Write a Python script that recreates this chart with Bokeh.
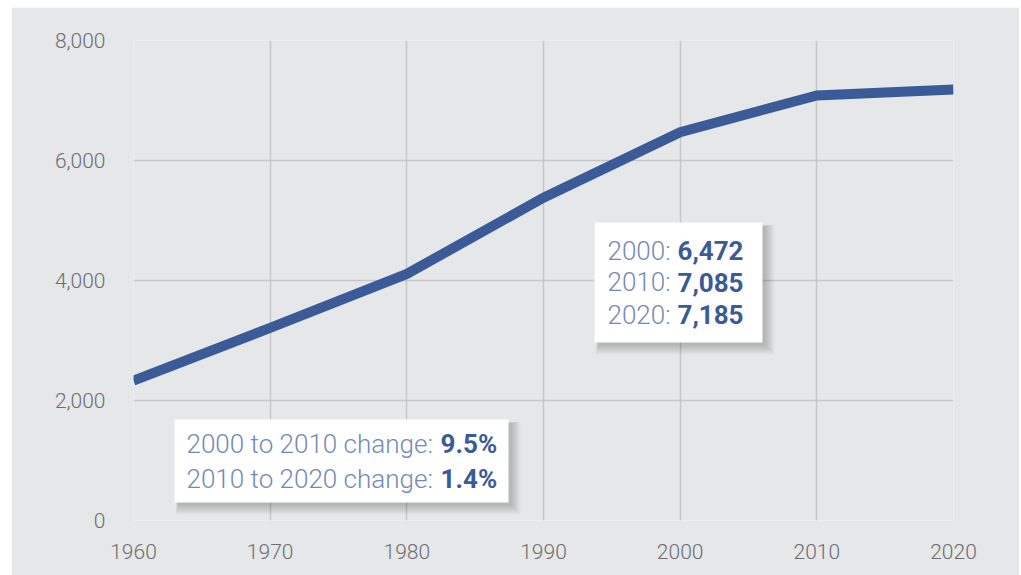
from bokeh.plotting import figure
from bokeh.models import Range1d, FixedTicker, NumeralTickFormatter, BoxAnnotation, Label
from bokeh.embed import file_html
from bokeh.resources import INLINE

# ---- data ----
years = [1960, 1970, 1980, 1990, 2000, 2010, 2020]
population = [2330, 3210, 4110, 5380, 6472, 7085, 7185]
y_ticks = [0, 2000, 4000, 6000, 8000]
callout_years = [2000, 2010, 2020]
change_periods = [(2000, 2010), (2010, 2020)]

BG = "#e6e7e8"
GRID = "#c6c7c9"
AXIS_TXT = "#6d6e71"
LINE = "#3a5b97"
LIGHT_TXT = "#7389b8"
BOLD_TXT = "#3a5b97"
FONT_LIGHT = "Roboto Light"
FONT = "Roboto"
BOX_FS = "26px"

p = figure(width=1008, height=568, output_backend="svg", toolbar_location=None,
           x_range=Range1d(1960, 2020), y_range=Range1d(0, 8000),
           min_border_left=122, min_border_right=66, min_border_top=33, min_border_bottom=55,
           background_fill_color=BG, border_fill_color=BG)
p.margin = (7, 2, 0, 11)
p.outline_line_color = None

p.xaxis.ticker = FixedTicker(ticks=years)
p.yaxis.ticker = FixedTicker(ticks=y_ticks)
p.yaxis.formatter = NumeralTickFormatter(format="0,0")
for ax in (p.xaxis[0], p.yaxis[0]):
    ax.axis_line_color = None
    ax.major_tick_line_color = None
    ax.minor_tick_line_color = None
    ax.major_label_text_font = FONT_LIGHT
    ax.major_label_text_font_size = "21px"
    ax.major_label_text_color = AXIS_TXT
p.yaxis.major_label_standoff = 22
p.xaxis.major_label_standoff = 17

p.xgrid.grid_line_color = GRID
p.ygrid.grid_line_color = GRID
p.xgrid.grid_line_width = 1.5
p.ygrid.grid_line_width = 1.5

p.line(years, population, line_width=10, line_color=LINE, line_join="miter", line_cap="butt")

# pixel -> data helpers (frame: 820 px for 60 years, 480 px for 8000)
XPX = 60 / 820.0
YPX = 8000 / 480.0


def box_with_shadow(left, right, top, bottom):
    for i in range(9, 0, -1):
        p.add_layout(BoxAnnotation(left=left + (4 - i * 0.3) * XPX,
                                   right=right + (2 + i * 1.1) * XPX,
                                   top=top - (4 - i * 0.2) * YPX,
                                   bottom=bottom - (2 + i * 1.1) * YPX,
                                   fill_color="black", fill_alpha=0.022, line_color=None))
    p.add_layout(BoxAnnotation(left=left, right=right, top=top, bottom=bottom,
                               fill_color="white", fill_alpha=1.0, line_color=None))


# callout 1: values
box_with_shadow(1993.73, 2006.02, 4967, 2967)
ylines1 = [4500, 3967, 3433]
for yr, yv in zip(callout_years, ylines1):
    val = population[years.index(yr)]
    p.add_layout(Label(x=1994.68, y=yv, text=f"{yr}:", text_font=FONT_LIGHT,
                       text_font_size=BOX_FS, text_color=LIGHT_TXT, text_baseline="middle"))
    p.add_layout(Label(x=1994.68, y=yv, x_offset=70, text=f"{val:,}", text_font=FONT,
                       text_font_style="bold", text_font_size=BOX_FS, text_color=BOLD_TXT,
                       text_baseline="middle"))

# callout 2: changes
box_with_shadow(1963.0, 1987.44, 1683, 300)
ylines2 = [1283, 700]
for (a, b), yv in zip(change_periods, ylines2):
    va = population[years.index(a)]
    vb = population[years.index(b)]
    pct = (vb - va) / va * 100
    p.add_layout(Label(x=1963.88, y=yv, text=f"{a} to {b} change:", text_font=FONT_LIGHT,
                       text_font_size=BOX_FS, text_color=LIGHT_TXT, text_baseline="middle"))
    p.add_layout(Label(x=1963.88, y=yv, x_offset=254, text=f"{pct:.1f}%", text_font=FONT,
                       text_font_style="bold", text_font_size=BOX_FS, text_color=BOLD_TXT,
                       text_baseline="middle"))

open("out.html", "w").write(file_html(p, INLINE))
